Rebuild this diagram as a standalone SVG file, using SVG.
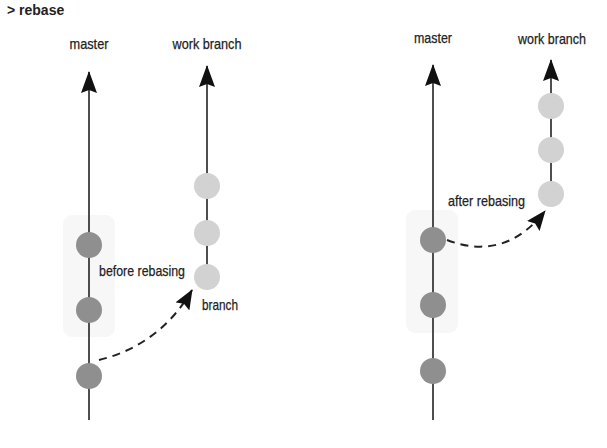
<svg xmlns="http://www.w3.org/2000/svg" width="607" height="448" viewBox="0 0 607 448">
  <defs>
    <marker id="tip" viewBox="0 0 22 16" refX="21" refY="8" markerWidth="22" markerHeight="16" markerUnits="userSpaceOnUse" orient="auto">
      <path d="M22 8 L0 0 L3 8 L0 16 Z" fill="#111"/>
    </marker>
    <marker id="dtip" viewBox="0 0 20 16" refX="19" refY="8" markerWidth="20" markerHeight="16" markerUnits="userSpaceOnUse" orient="auto">
      <path d="M20 8 L0 0 L3 8 L0 16 Z" fill="#111"/>
    </marker>
  </defs>
  <style>
    .title { font-family: "Liberation Sans", Arial, sans-serif; font-weight: bold; font-size: 14px; fill: #222; }
    .lbl { font-family: "Liberation Sans", Arial, sans-serif; font-size: 15px; fill: #222; stroke: #222; stroke-width: 0.25; }
    .trunk { stroke: #222; stroke-width: 1.6; fill: none; }
    .group { fill: #f7f7f7; }
    .c-main { fill: #8f8f8f; }
    .c-work { fill: #d2d2d2; }
    .dash { stroke: #222; stroke-width: 2; fill: none; stroke-dasharray: 8 6; }
  </style>

  <rect width="607" height="448" fill="#fff"/>
  <text class="title" x="7" y="15">&gt; rebase</text>

  <!-- grouping backgrounds -->
  <rect class="group" x="63" y="215" width="52" height="122" rx="9"/>
  <rect class="group" x="406" y="210" width="52" height="123" rx="9"/>

  <g id="connectors">
    <!-- left: branch lines -->
    <line class="trunk" x1="89" y1="420" x2="89" y2="72" marker-end="url(#tip)"/>
    <line class="trunk" x1="207" y1="277" x2="207" y2="66" marker-end="url(#tip)"/>
    <path class="dash" d="M99 360 Q160 345 192 290" marker-end="url(#dtip)"/>
    <!-- right: branch lines -->
    <line class="trunk" x1="433" y1="420" x2="433" y2="65" marker-end="url(#tip)"/>
    <line class="trunk" x1="551" y1="194" x2="551" y2="60" marker-end="url(#tip)"/>
    <path class="dash" d="M447 240 Q505 262 545 211" marker-end="url(#dtip)"/>
  </g>

  <!-- labels -->
  <g id="labels-left">
    <text class="lbl" x="89" y="49" text-anchor="middle" textLength="39" lengthAdjust="spacingAndGlyphs">master</text>
    <text class="lbl" x="207" y="49" text-anchor="middle" textLength="69" lengthAdjust="spacingAndGlyphs">work branch</text>
    <text class="lbl" x="99" y="276" textLength="86" lengthAdjust="spacingAndGlyphs">before rebasing</text>
    <text class="lbl" x="202" y="310" textLength="36" lengthAdjust="spacingAndGlyphs">branch</text>
  </g>
  <g id="labels-right">
    <text class="lbl" x="433" y="43" text-anchor="middle" textLength="38" lengthAdjust="spacingAndGlyphs">master</text>
    <text class="lbl" x="552" y="44" text-anchor="middle" textLength="68" lengthAdjust="spacingAndGlyphs">work branch</text>
    <text class="lbl" x="448" y="206" textLength="77" lengthAdjust="spacingAndGlyphs">after rebasing</text>
  </g>

  <!-- left commits -->
  <g id="left-master-1"><circle class="c-main" cx="89" cy="245" r="13"/></g>
  <g id="left-master-2"><circle class="c-main" cx="89" cy="310" r="13"/></g>
  <g id="left-master-3"><circle class="c-main" cx="89" cy="376" r="13"/></g>
  <g id="left-work-1"><circle class="c-work" cx="207" cy="186" r="13"/></g>
  <g id="left-work-2"><circle class="c-work" cx="207" cy="233" r="13"/></g>
  <g id="left-work-3"><circle class="c-work" cx="207" cy="277" r="13"/></g>

  <!-- right commits -->
  <g id="right-master-1"><circle class="c-main" cx="433" cy="240" r="13"/></g>
  <g id="right-master-2"><circle class="c-main" cx="433" cy="305" r="13"/></g>
  <g id="right-master-3"><circle class="c-main" cx="433" cy="371" r="13"/></g>
  <g id="right-work-1"><circle class="c-work" cx="551" cy="106" r="13"/></g>
  <g id="right-work-2"><circle class="c-work" cx="551" cy="150" r="13"/></g>
  <g id="right-work-3"><circle class="c-work" cx="551" cy="194" r="13"/></g>
</svg>
